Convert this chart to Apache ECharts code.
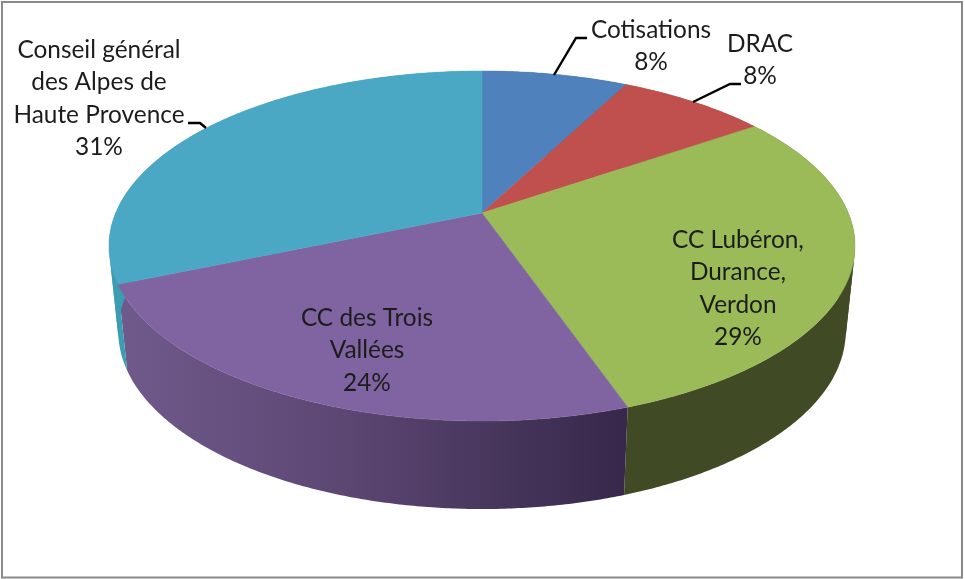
<!DOCTYPE html>
<html>
<head>
    <meta charset="utf-8">
    <script src="https://cdn.jsdelivr.net/npm/echarts@6/dist/echarts.min.js"></script>
    <style>
        html, body { margin: 0; padding: 0; background: #fff; }
        #main { width: 965px; height: 579px; }
    </style>
</head>
<body>
<div id="main"></div>
<script type="text/javascript">
    // values, clockwise from 12 o'clock
    var categories = ['Cotisations', 'DRAC', 'CC Lubéron,\nDurance,\nVerdon', 'CC des Trois\nVallées', 'Conseil général\ndes Alpes de\nHaute Provence'];
    var values = [7.6, 7.8, 29.3, 23.9, 31.4];

    // styles
    var topColors = ['#4f81bd', '#c0504d', '#9bbb59', '#8064a2', '#4aa8c4'];
    var wallColors = ['#3a5f8c', '#8e3b39', '#404a25', ['#6f5a8c', '#5c4672', '#36284a'], '#3c9cb2'];

    // layout: label centre and first line y, then leader line points
    var labelPos = [
        {x: 651, y: 30, line: [[554, 75], [576, 38], [587, 38]]},
        {x: 760, y: 44, line: [[693, 102], [730, 84], [741, 84]]},
        {x: 738, y: 240},
        {x: 367, y: 318},
        {x: 99, y: 50, line: [[188, 123], [200, 123], [206, 128]]}
    ];

    // perspective of the disc: apex of the slices, focal terms
    var apexX = 482, apexY = 213, scaleX = 366.3, scaleY = 168.8, persp = -0.1886;

    function rimPoint(a) {
        var u = Math.sin(a), v = -Math.cos(a), den = 1 + persp * v;
        return [apexX + scaleX * u / den, apexY + scaleY * v / den, v];
    }
    function lowPoint(a) {
        var p = rimPoint(a);
        return [apexX + (p[0] - apexX) * 0.975, p[1] + 85 + 3 * p[2]];
    }

    var total = values.reduce(function (s, v) { return s + v; }, 0);
    function sliceAngles(i) {
        var before = 0;
        for (var k = 0; k < i; k++) before += values[k];
        return [before / total * 2 * Math.PI, (before + values[i]) / total * 2 * Math.PI];
    }
    function rimPoints(i, fn) {
        var a = sliceAngles(i), n = Math.ceil((a[1] - a[0]) * 120), pts = [];
        for (var k = 0; k <= n; k++) {
            var q = fn(a[0] + (a[1] - a[0]) * k / n);
            pts.push([q[0], q[1]]);
        }
        return pts;
    }

    // which way the wall strip winds at step k: it flips at the silhouette of the disc
    function stripSide(top, low, k) {
        var dx = top[k + 1][0] - top[k][0], dy = top[k + 1][1] - top[k][1];
        var ox = low[k][0] - top[k][0], oy = low[k][1] - top[k][1];
        return dx * oy - dy * ox > 0;
    }

    // one polygon per run, a single one folds over itself at the silhouette and leaves a hole
    function renderWall(params) {
        var i = params.dataIndex;
        var top = rimPoints(i, rimPoint), low = rimPoints(i, lowPoint);
        var c = wallColors[i], fill = c;
        if (Array.isArray(c)) {
            fill = {
                type: 'linear', global: true, x: top[top.length - 1][0], y: 0, x2: top[0][0], y2: 0,
                colorStops: [{offset: 0, color: c[0]}, {offset: 0.45, color: c[1]}, {offset: 1, color: c[2]}]
            };
        }
        var parts = [], start = 0;
        for (var k = 1; k <= top.length - 1; k++) {
            if (k === top.length - 1 || stripSide(top, low, k) !== stripSide(top, low, start)) {
                parts.push({
                    type: 'polygon',
                    shape: {points: top.slice(start, k + 1).concat(low.slice(start, k + 1).reverse())},
                    style: {fill: fill}
                });
                start = k;
            }
        }
        return {type: 'group', children: parts};
    }

    function renderTop(params) {
        var i = params.dataIndex;
        return {
            type: 'polygon',
            shape: {points: [[apexX, apexY]].concat(rimPoints(i, rimPoint))},
            style: {fill: topColors[i], stroke: topColors[i], lineWidth: 0.5}
        };
    }

    function renderLabel(params) {
        var i = params.dataIndex, pos = labelPos[i], children = [];
        children.push({
            type: 'text',
            style: {
                text: categories[i] + '\n' + Math.round(values[i]) + '%',
                x: pos.x, y: pos.y - 16, align: 'center', verticalAlign: 'top',
                font: '24.4px Lato', lineHeight: 32.4, fill: '#1c1c1c'
            }
        });
        if (pos.line) {
            children.push({
                type: 'polyline',
                shape: {points: pos.line},
                style: {stroke: '#000', lineWidth: 2.4, fill: null}
            });
        }
        return {type: 'group', children: children};
    }

    var myChart = echarts.init(document.getElementById('main'), null, {renderer: 'canvas'});
    var sliceData = categories.map(function (c, i) { return {name: c, value: values[i]}; });
    myChart.setOption({
        animation: false,
        backgroundColor: '#fff',
        graphic: [{
            type: 'rect',
            shape: {x: 2, y: 2, width: 960, height: 575.5},
            style: {fill: null, stroke: '#8a8a8a', lineWidth: 2}
        }],
        series: [
            {type: 'custom', coordinateSystem: 'none', renderItem: renderWall, data: sliceData, z: 1, silent: true},
            {type: 'custom', coordinateSystem: 'none', renderItem: renderTop, data: sliceData, z: 2, silent: true},
            {type: 'custom', coordinateSystem: 'none', renderItem: renderLabel, data: sliceData, z: 3, silent: true}
        ]
    });
</script>
</body>
</html>
